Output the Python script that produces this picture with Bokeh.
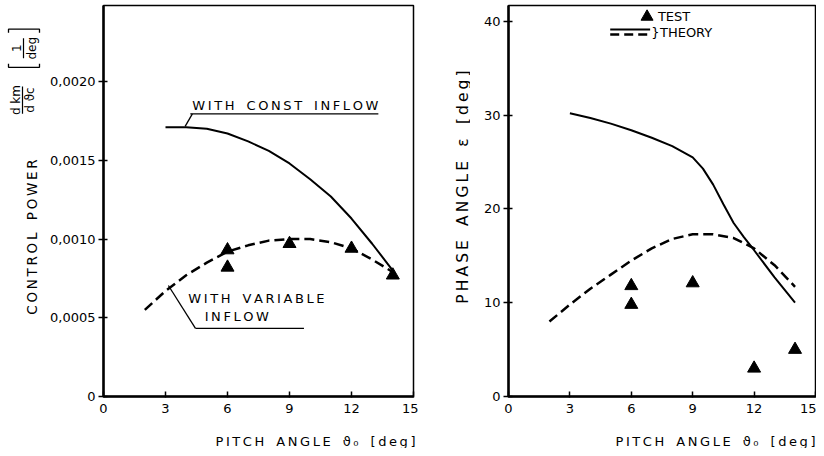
import math
from bokeh.plotting import figure
from bokeh.models import Range1d, FixedTicker, AllLabels
from bokeh.layouts import row, column
from bokeh.core.properties import value
from bokeh.embed import file_html
from bokeh.resources import INLINE

FONT = "DejaVu Sans"

# ---------------- data ----------------
x_ticks = [0, 3, 6, 9, 12, 15]

cp_ticks = [0, 0.0005, 0.0010, 0.0015, 0.0020]
cp_tick_labels = ["0", "0,0005", "0,0010", "0,0015", "0,0020"]

eps_ticks = [0, 10, 20, 30, 40]

theta_const = [3, 4, 5, 6, 7, 8, 9, 10, 11, 12, 13, 14]
cp_const = [0.00171, 0.00171, 0.00170, 0.00167, 0.00162, 0.00156, 0.00148,
            0.00138, 0.00127, 0.00113, 0.00097, 0.00080]

theta_var = [2, 3, 4, 5, 6, 7, 8, 9, 10, 11, 12, 13, 14]
cp_var = [0.00055, 0.00067, 0.00077, 0.00085, 0.00092, 0.00096, 0.00099,
          0.00100, 0.00100, 0.00098, 0.00094, 0.00087, 0.00079]

theta_cp_test = [6, 6, 9, 12, 14]
cp_test = [0.00093, 0.00082, 0.00097, 0.00094, 0.00077]

theta_eps_const = [3, 4, 5, 6, 7, 8, 9, 9.5, 10, 10.5, 11, 11.5, 12, 13, 14]
eps_const = [30.2, 29.7, 29.1, 28.4, 27.6, 26.7, 25.5, 24.3, 22.6, 20.5,
             18.5, 17.0, 15.6, 12.7, 10.0]

theta_eps_var = [2, 3, 4, 5, 6, 7, 8, 9, 10, 11, 12, 13, 14]
eps_var = [8.0, 9.8, 11.5, 13.0, 14.5, 15.8, 16.8, 17.3, 17.3, 16.9, 15.8,
           14.0, 11.7]

theta_eps_test = [6, 6, 9, 12, 14]
eps_test = [11.8, 9.8, 12.1, 3.0, 5.0]

THIN = "\u2009"


def spaced(s):
    """Letter-spaced technical lettering."""
    words = s.split(" ")
    return (THIN + " " + THIN + THIN).join(THIN.join(list(w)) for w in words)


H = 430          # height of the panel row
W = 816
HB = 448         # bottom of the page


def style(p, yticks, ylabels=None):
    p.xgrid.visible = False
    p.ygrid.visible = False
    p.outline_line_color = "black"
    p.outline_line_width = 1.5
    p.background_fill_color = "white"
    p.border_fill_color = "white"
    p.xaxis.ticker = FixedTicker(ticks=x_ticks)
    p.yaxis.ticker = FixedTicker(ticks=yticks)
    if ylabels is not None:
        p.yaxis.major_label_overrides = dict(zip(yticks, ylabels))
    for ax in (p.xaxis, p.yaxis):
        ax.major_label_policy = AllLabels()
        ax.axis_line_width = 2.5
        ax.axis_line_color = "black"
        ax.major_tick_line_width = 1.5
        ax.major_tick_line_color = "black"
        ax.minor_tick_line_color = None
        ax.major_label_text_font = FONT
        ax.major_label_text_font_size = "13px"
        ax.major_label_text_color = "black"
    p.xaxis.major_tick_in = 5
    p.xaxis.major_tick_out = 1
    p.xaxis.major_label_standoff = 6
    p.yaxis.major_tick_in = 4
    p.yaxis.major_tick_out = 5
    p.yaxis.major_label_standoff = 3


def txt(p, x, y, s, size="13px", angle=0.0, align="center"):
    p.text(x=[x], y=[y], text=[s], angle=angle, text_align=align,
           text_baseline="middle", text_font=value(FONT), text_font_size=size,
           text_color="black")


def strip(x0, x1, y0, y1):
    f = figure(width=x1 - x0, height=y1 - y0, x_range=Range1d(x0, x1), y_range=Range1d(y1, y0),
               x_axis_location=None, y_axis_location=None, min_border=0,
               output_backend="svg", toolbar_location=None)
    f.outline_line_color = None
    f.xgrid.visible = False
    f.ygrid.visible = False
    f.background_fill_color = "white"
    f.border_fill_color = "white"
    return f


UP = math.pi / 2

# ---------------- left label strip (page coordinates) ----------------
L1 = strip(0, 42, 0, H)
txt(L1, 31, 340, spaced("CONTROL POWER"), size="13.5px", angle=UP, align="left")
# d km / d theta_c
txt(L1, 15, 104, "d km", size="12px", angle=UP)
L1.line([22, 22], [89, 119], line_color="black", line_width=1.2)
txt(L1, 29, 104, "d ϑc", size="12px", angle=UP)
# [1/deg]
txt(L1, 16, 47, "1", size="12px", angle=UP)
L1.line([23, 23], [36, 58], line_color="black", line_width=1.2)
txt(L1, 31, 47, "deg", size="12px", angle=UP)
L1.line([8, 8, 39, 39], [64, 68, 68, 64], line_color="black", line_width=1.3)
L1.line([8, 8, 39, 39], [30, 26, 26, 30], line_color="black", line_width=1.3)

# ---------------- left panel ----------------
p1 = figure(width=376, height=H, x_range=Range1d(0, 15), y_range=Range1d(0, 0.002483),
            output_backend="svg", toolbar_location=None,
            min_border_left=61, min_border_right=5, min_border_top=5,
            min_border_bottom=H - 401)
style(p1, cp_ticks, cp_tick_labels)

p1.line(theta_const, cp_const, line_color="black", line_width=2)
p1.line(theta_var, cp_var, line_color="black", line_width=2.5, line_dash="10 5")
p1.scatter(theta_cp_test, cp_test, marker="triangle", size=13, color="black")

txt(p1, 8.8, 0.00185, spaced("WITH CONST INFLOW"))
p1.line([4.2, 13.3], [0.001795, 0.001795], line_color="black", line_width=1.3)
p1.line([4.3, 3.95], [0.001795, 0.001715], line_color="black", line_width=1.3)

txt(p1, 7.4, 0.00062, spaced("WITH VARIABLE"))
txt(p1, 6.45, 0.000505, spaced("INFLOW"))
p1.line([4.45, 9.7], [0.000433, 0.000433], line_color="black", line_width=1.3)
p1.line([3.14, 4.45], [0.000705, 0.000433], line_color="black", line_width=1.3)

# ---------------- middle label strip ----------------
L2 = strip(418, 470, 0, H)
txt(L2, 462, 328, spaced("PHASE ANGLE ε [deg]"), size="15.5px", angle=UP, align="left")

# ---------------- right panel ----------------
p2 = figure(width=346, height=H, x_range=Range1d(0, 15), y_range=Range1d(0, 41.7),
            output_backend="svg", toolbar_location=None,
            min_border_left=38, min_border_right=1, min_border_top=4,
            min_border_bottom=H - 396)
style(p2, eps_ticks)

p2.line(theta_eps_const, eps_const, line_color="black", line_width=2)
p2.line(theta_eps_var, eps_var, line_color="black", line_width=2.5, line_dash="10 5")
p2.scatter(theta_eps_test, eps_test, marker="triangle", size=13, color="black")

# legend
p2.scatter([6.77], [40.5], marker="triangle", size=12, color="black")
txt(p2, 7.3, 40.5, "TEST", align="left")
p2.line([4.97, 6.92], [39.15, 39.15], line_color="black", line_width=2)
p2.line([4.97, 6.92], [38.6, 38.6], line_color="black", line_width=2.5, line_dash="9 5")
txt(p2, 6.98, 38.85, "}", size="13px", align="left")
txt(p2, 7.4, 38.85, "THEORY", align="left")

# ---------------- strip with the x-axis titles ----------------
T = strip(0, W, H, HB)
txt(T, 415, 441, spaced("PITCH ANGLE ϑ₀ [deg]"), align="right")
txt(T, 815, 441, spaced("PITCH ANGLE ϑ₀ [deg]"), align="right")

layout = column(row(L1, p1, L2, p2), T)
open("out.html", "w").write(file_html(layout, INLINE))
